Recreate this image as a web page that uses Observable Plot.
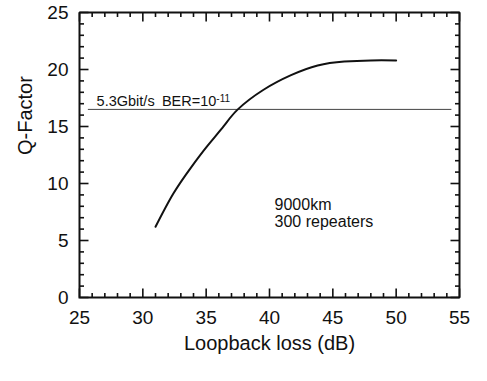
<!DOCTYPE html>
<html>
<head>
<meta charset="utf-8">
<script src="https://cdn.jsdelivr.net/npm/d3@7"></script>
<script src="https://cdn.jsdelivr.net/npm/@observablehq/plot@0.6"></script>
<style>
  body { margin: 0; background: #fff; }
</style>
</head>
<body>
<div id="chart"></div>
<script>
// Q-factor against loopback loss for a 9000 km, 300-repeater loop
const loss = [31, 32.4, 33.8, 35.1, 36.4, 37.5, 39.5, 41.7, 43.8, 45.9, 48, 50];
const qFactor = [6.2, 9.1, 11.4, 13.3, 15.05, 16.5, 18.2, 19.5, 20.35, 20.7, 20.8, 20.8];

// Required Q for 5.3 Gbit/s at BER 1e-11
const thresholdQ = [16.5];
const thresholdFrom = 25.7;
const thresholdTo = 54.4;
const thresholdLabel = "5.3Gbit/s\u2002BER=10";
const thresholdExponent = "-11";

const noteLines = ["9000km", "300 repeaters"];

const xDomain = [25, 55];
const yDomain = [0, 25];
const xTicks = [25, 30, 35, 40, 45, 50, 55];
const yTicks = [0, 5, 10, 15, 20, 25];
const xMinor = d3.range(26, 55).filter(v => v % 5 !== 0);
const yMinor = d3.range(1, 25).filter(v => v % 5 !== 0);

const xLabel = "Loopback loss (dB)";
const yLabel = "Q-Factor";

const W = 487, H = 381;
const margin = {top: 12, right: 28, bottom: 84, left: 79};
const innerW = W - margin.left - margin.right;
const innerH = H - margin.top - margin.bottom;
const ink = "#111";

// tick lengths in pixels, expressed in data units of each scale
const perX = (xDomain[1] - xDomain[0]) / innerW;
const perY = (yDomain[1] - yDomain[0]) / innerH;
const majorLen = 9, minorLen = 4.5;

const curve = loss.map((x, i) => ({loss: x, q: qFactor[i]}));

// inward tick segments on all four sides of the box, one z-group per tick
function tickSegments(xs, ys, len) {
  const dy = len * perY, dx = len * perX, out = [];
  const seg = (id, a, b) => { out.push({...a, id}, {...b, id}); };
  xs.forEach(v => {
    seg(`b${v}`, {x: v, y: yDomain[0]}, {x: v, y: yDomain[0] + dy});
    seg(`t${v}`, {x: v, y: yDomain[1]}, {x: v, y: yDomain[1] - dy});
  });
  ys.forEach(v => {
    seg(`l${v}`, {x: xDomain[0], y: v}, {x: xDomain[0] + dx, y: v});
    seg(`r${v}`, {x: xDomain[1], y: v}, {x: xDomain[1] - dx, y: v});
  });
  return out;
}
const ticks = [...tickSegments(xTicks, yTicks, majorLen), ...tickSegments(xMinor, yMinor, minorLen)];

// the box outline, corner to corner
const box = [
  {x: xDomain[0], y: yDomain[0]}, {x: xDomain[1], y: yDomain[0]},
  {x: xDomain[1], y: yDomain[1]}, {x: xDomain[0], y: yDomain[1]},
  {x: xDomain[0], y: yDomain[0]}
];

const plot = Plot.plot({
  width: W, height: H,
  marginTop: margin.top, marginRight: margin.right,
  marginBottom: margin.bottom, marginLeft: margin.left,
  x: {domain: xDomain, ticks: xTicks, tickSize: 0, tickPadding: 13, label: null},
  y: {domain: yDomain, ticks: yTicks, tickSize: 0, tickPadding: 11, label: null},
  style: {fontFamily: "'Liberation Sans', Arial, sans-serif", fontSize: "19px", color: ink},
  marks: [
    Plot.text([xLabel], {frameAnchor: "bottom", dy: 52, fontSize: 20, fill: ink}),
    Plot.text([yLabel], {frameAnchor: "left", dx: -54, rotate: -90, fontSize: 20, fill: ink}),
    Plot.ruleY(thresholdQ, {x1: thresholdFrom, x2: thresholdTo, stroke: "#444", strokeWidth: 1}),
    Plot.text([thresholdLabel], {x: 26.35, y: thresholdQ[0], dy: -8, textAnchor: "start", fontSize: 14.5, fill: ink}),
    Plot.line(curve, {x: "loss", y: "q", curve: "natural", stroke: ink, strokeWidth: 2}),
    Plot.text([noteLines.join("\n")], {x: 40.4, y: 8.7, textAnchor: "start", lineAnchor: "top", lineHeight: 1.05, fontSize: 16, fill: ink}),
    Plot.line(ticks, {x: "x", y: "y", z: "id", stroke: ink, strokeWidth: 1.6, strokeLinecap: "butt"}),
    Plot.line(box, {x: "x", y: "y", stroke: ink, strokeWidth: 2, strokeLinejoin: "miter", strokeLinecap: "square"})
  ]
});

// superscript exponent on the BER label
d3.select(plot).selectAll("text")
  .filter(function () { return this.textContent === thresholdLabel; })
  .append("tspan")
  .attr("dy", "-0.45em")
  .attr("font-size", "10px")
  .text(thresholdExponent);

document.getElementById("chart").append(plot);
</script>
</body>
</html>
